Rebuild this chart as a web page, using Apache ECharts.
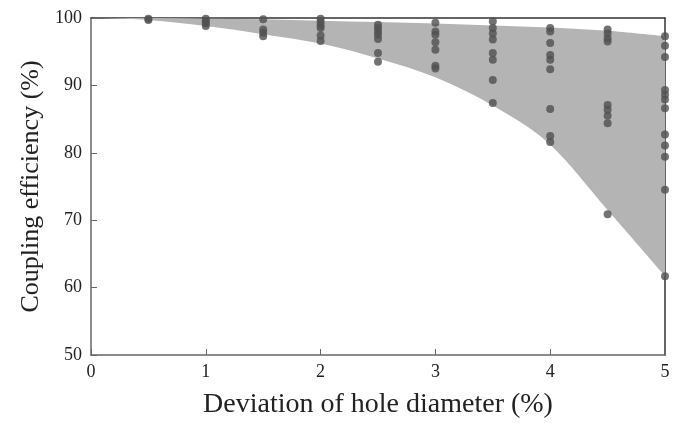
<!DOCTYPE html>
<html>
<head>
<meta charset="utf-8">
<script src="https://cdn.jsdelivr.net/npm/echarts@6/dist/echarts.min.js"></script>
<style>
html,body{margin:0;padding:0;background:#fff;}
#c{width:692px;height:424px;}
</style>
</head>
<body>
<div id="c"></div>
<script>
// Envelope of the shaded region
const bandX = [0, 0.5, 1, 1.5, 2, 2.5, 3, 3.5, 4, 4.5, 5];
const bandUpper = [100, 100, 99.9, 99.8, 99.6, 99.4, 99.2, 98.9, 98.6, 98.1, 97.3];
const bandLower = [100, 99.7, 98.8, 97.6, 96.2, 94.0, 91.2, 87.0, 81.2, 71.5, 61.7];

// Scatter points per deviation column
const columnX = [0.5, 1, 1.5, 2, 2.5, 3, 3.5, 4, 4.5, 5];
const col05 = [99.9, 99.7];
const col10 = [99.9, 99.5, 99.2, 98.8];
const col15 = [99.8, 98.3, 97.8, 97.3];
const col20 = [99.9, 99.4, 98.9, 98.5, 97.4, 96.6];
const col25 = [99.0, 98.5, 98.0, 97.5, 96.9, 94.8, 93.5];
const col30 = [99.3, 98.0, 97.5, 96.4, 95.3, 92.9, 92.5];
const col35 = [99.5, 98.5, 97.7, 96.8, 94.8, 93.8, 90.8, 87.4];
const col40 = [98.5, 98.0, 96.3, 94.5, 93.8, 92.4, 86.5, 82.5, 81.6];
const col45 = [98.3, 97.7, 97.0, 96.5, 87.1, 86.4, 85.5, 84.4, 70.9];
const col50 = [97.3, 95.9, 94.2, 89.3, 88.6, 87.9, 86.6, 82.7, 81.1, 79.4, 74.5, 61.7];
const columnValues = [col05, col10, col15, col20, col25, col30, col35, col40, col45, col50];

// Axis ticks
const xTicks = [0, 1, 2, 3, 4, 5];
const yTicks = [50, 60, 70, 80, 90, 100];

const points = [];
columnX.forEach((x, i) => columnValues[i].forEach(v => points.push([x, v])));

// Catmull-Rom spline through pixel points -> SVG path commands
function splinePath(pts, moveFirst) {
  let d = (moveFirst ? 'M' : 'L') + pts[0][0] + ' ' + pts[0][1];
  for (let i = 0; i < pts.length - 1; i++) {
    const p0 = pts[Math.max(i - 1, 0)], p1 = pts[i], p2 = pts[i + 1], p3 = pts[Math.min(i + 2, pts.length - 1)];
    const c1 = [p1[0] + (p2[0] - p0[0]) / 6, p1[1] + (p2[1] - p0[1]) / 6];
    const c2 = [p2[0] - (p3[0] - p1[0]) / 6, p2[1] - (p3[1] - p1[1]) / 6];
    d += ' C' + c1[0] + ' ' + c1[1] + ' ' + c2[0] + ' ' + c2[1] + ' ' + p2[0] + ' ' + p2[1];
  }
  return d;
}

const serif = '"Liberation Serif", "DejaVu Serif", serif';
const axisCol = '#666';

const chart = echarts.init(document.getElementById('c'), null, {renderer: 'canvas'});
chart.setOption({
  animation: false,
  backgroundColor: '#fff',
  grid: {left: 91, right: 27, top: 18, bottom: 68, containLabel: false},
  xAxis: [{
    type: 'value', min: xTicks[0], max: xTicks[xTicks.length - 1], interval: 1,
    name: 'Deviation of hole diameter (%)', nameLocation: 'middle', nameGap: 36,
    nameTextStyle: {fontFamily: serif, fontSize: 28, color: '#222'},
    axisLine: {show: true, lineStyle: {color: axisCol, width: 1.5}},
    axisTick: {show: true, inside: true, length: 6, lineStyle: {color: axisCol}},
    axisLabel: {fontFamily: serif, fontSize: 18, color: '#222', margin: 8},
    splitLine: {show: false}
  }, {
    type: 'value', position: 'top', min: 0, max: 5,
    axisLine: {show: true, onZero: false, lineStyle: {color: '#333', width: 1.5}},
    axisTick: {show: false}, axisLabel: {show: false}, splitLine: {show: false}
  }],
  yAxis: [{
    type: 'value', min: yTicks[0], max: yTicks[yTicks.length - 1], interval: 10,
    name: 'Coupling efficiency (%)', nameLocation: 'middle', nameGap: 43,
    nameTextStyle: {fontFamily: serif, fontSize: 26, color: '#222'},
    axisLine: {show: true, lineStyle: {color: axisCol, width: 1.5}},
    axisTick: {show: true, inside: true, length: 6, lineStyle: {color: axisCol}},
    axisLabel: {fontFamily: serif, fontSize: 18, color: '#222', margin: 9},
    splitLine: {show: false}
  }, {
    type: 'value', position: 'right', min: 50, max: 100,
    axisLine: {show: true, onZero: false, lineStyle: {color: '#333', width: 1.5}},
    axisTick: {show: false}, axisLabel: {show: false}, splitLine: {show: false}
  }],
  series: [{
    type: 'custom', silent: true, z: 1,
    data: [0],
    renderItem: function (params, api) {
      const up = bandX.map((x, i) => api.coord([x, bandUpper[i]]));
      const lo = bandX.map((x, i) => api.coord([x, bandLower[i]])).reverse();
      const d = splinePath(up, true) + ' ' + splinePath(lo, false) + ' Z';
      return {
        type: 'path',
        shape: {pathData: d},
        style: {fill: '#b4b4b4', stroke: null}
      };
    }
  }, {
    type: 'scatter', data: points, symbol: 'circle', symbolSize: 8,
    itemStyle: {color: '#505050'}, clip: false, z: 3
  }]
});
</script>
</body>
</html>
